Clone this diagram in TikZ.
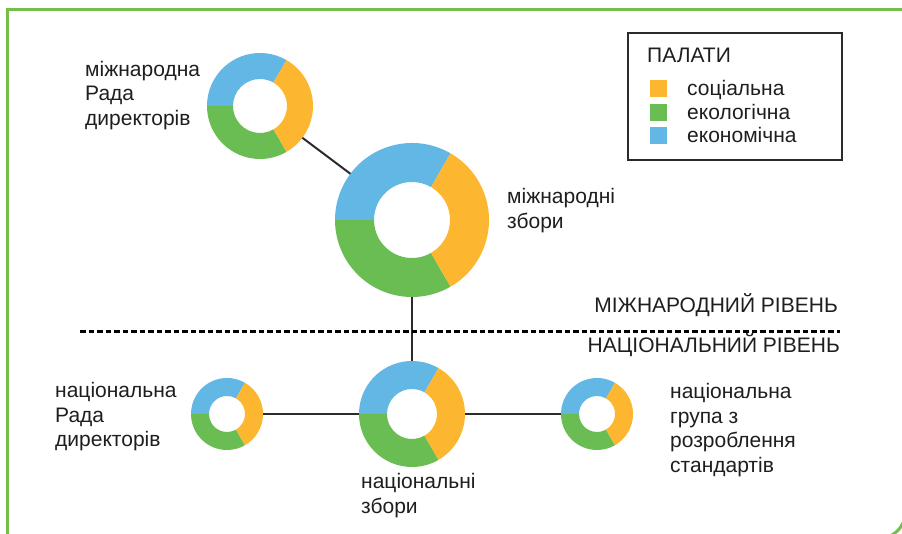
\documentclass[tikz,border=0pt]{standalone}
\usepackage{fontspec}
\setmainfont{Liberation Sans}
\definecolor{cblue}{HTML}{62B7E5}
\definecolor{corange}{HTML}{FDB62F}
\definecolor{cgreen}{HTML}{6ABD52}
\definecolor{cframe}{HTML}{74BE4A}
\definecolor{cdark}{HTML}{2B2B2B}
\definecolor{ctext}{HTML}{1E1E1E}
\newcommand\donutring[4]{%
  \node[circle,inner sep=0pt,outer sep=0pt,minimum size=#3*2pt] (#1) at (#2) {};
  \begin{scope}[shift={(#2)}]
    \fill[cblue] (60:#3) arc[start angle=60,end angle=180,radius=#3] -- (180:#4) arc[start angle=180,end angle=60,radius=#4] -- cycle;
    \fill[cgreen] (180:#3) arc[start angle=180,end angle=300,radius=#3] -- (300:#4) arc[start angle=300,end angle=180,radius=#4] -- cycle;
    \fill[corange] (-60:#3) arc[start angle=-60,end angle=60,radius=#3] -- (60:#4) arc[start angle=60,end angle=-60,radius=#4] -- cycle;
  \end{scope}}
\begin{document}
\begin{tikzpicture}[x=1pt,y=1pt,
  lbl/.style={inner sep=0pt,text=ctext,font=\fontsize{21}{24.5}\selectfont},
  conn/.style={draw=cdark,line width=2pt},
  frameline/.style={draw=cframe,line width=3pt},
  dotline/.style={draw=black,line width=3pt,dash pattern=on 5.5pt off 3pt},
  swatch/.style={minimum size=17pt,inner sep=0pt}]
\useasboundingbox (0,0) rectangle (902,534);
% frame
\coordinate (f1) at (7.5,-5);
\coordinate (f2) at (7.5,524);
\coordinate (f3) at (910,524);
\draw[frameline] (f1) -- (f2) -- (f3);
\coordinate (f4) at (905,60);
\draw[frameline] (f4) -- (905,21) arc[start angle=0,end angle=-90,radius=25] -- (840,-4);
% donuts
\donutring{tl}{260,428}{53}{27}
\donutring{big}{412,314}{77}{38}
\donutring{na}{412,120}{53}{25}
\donutring{nl}{227,120}{36}{18}
\donutring{nr}{597,120}{36}{18}
% connectors
\draw[conn] (tl) -- (big);
\draw[conn] (big) -- (na);
\draw[conn] (nl) -- (na);
\draw[conn] (na) -- (nr);
% level separator
\coordinate (d1) at (80,202);
\coordinate (d2) at (840,202);
\draw[dotline] (d1) -- (d2);
\node[lbl,anchor=base east] (lvl1) at (838,221) {МІЖНАРОДНИЙ РІВЕНЬ};
\node[lbl,anchor=base east] (lvl2) at (840,181) {НАЦІОНАЛЬНИЙ РІВЕНЬ};
% labels
\node[lbl,anchor=base west] (t1) at (85,457.5) {\begin{tabular}[t]{@{}l@{}}міжнародна\\Рада\\директорів\end{tabular}};
\node[lbl,anchor=base west] (t2) at (507,330) {\begin{tabular}[t]{@{}l@{}}міжнародні\\збори\end{tabular}};
\node[lbl,anchor=base west] (t3) at (55,136) {\begin{tabular}[t]{@{}l@{}}національна\\Рада\\директорів\end{tabular}};
\node[lbl,anchor=base west] (t4) at (670,135) {\begin{tabular}[t]{@{}l@{}}національна\\група з\\розроблення\\стандартів\end{tabular}};
\node[lbl,anchor=base west] (t5) at (361,45) {\begin{tabular}[t]{@{}l@{}}національні\\збори\end{tabular}};
% legend
\node[draw=cdark,line width=2pt,minimum width=214pt,minimum height=127pt,inner sep=0pt,anchor=north west] (leg) at (627,502) {};
\node[lbl,anchor=base west] (legt) at (647,471) {ПАЛАТИ};
\node[swatch,fill=corange] (s1) at (658,445) {};
\node[swatch,fill=cgreen] (s2) at (658,421.5) {};
\node[swatch,fill=cblue] (s3) at (658,398) {};
\node[lbl,anchor=base west] (l1) at (687,438) {соціальна};
\node[lbl,anchor=base west] (l2) at (687,414.5) {екологічна};
\node[lbl,anchor=base west] (l3) at (687,391) {економічна};
\end{tikzpicture}
\end{document}
